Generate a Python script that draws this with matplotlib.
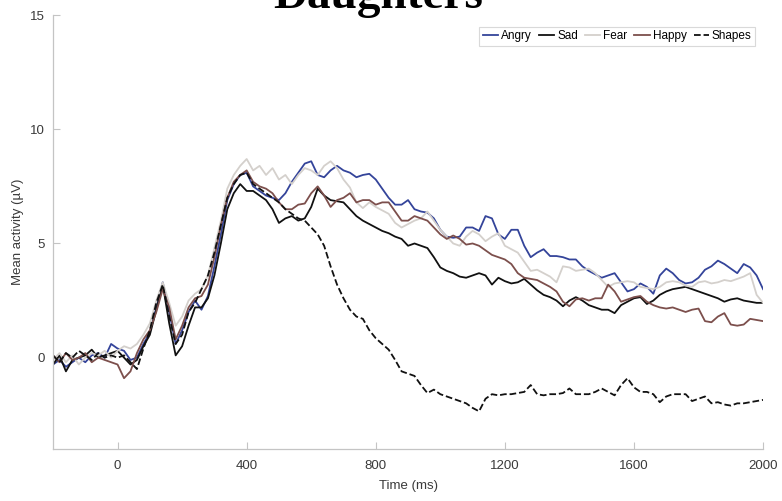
import numpy as np
import matplotlib

matplotlib.use("Agg")
import matplotlib.pyplot as plt  # noqa: E402

# time axis, 20 ms steps
time_ms = np.arange(-200, 2001, 20)

angry = [
    -0.3, -0.1, -0.4, -0.2, 0.0, -0.2, 0.1, 0.2, 0.0, 0.6,
    0.4, 0.3, -0.1, 0.0, 0.6, 1.1, 2.2, 3.3, 2.0, 0.6,
    1.2, 2.0, 2.5, 2.1, 2.7, 4.0, 5.4, 6.9, 7.6, 8.0,
    8.1, 7.5, 7.3, 7.1, 7.0, 6.9, 7.2, 7.7, 8.1, 8.5,
    8.6, 8.0, 7.9, 8.2, 8.4, 8.2, 8.1, 7.9, 8.0, 8.05,
    7.8, 7.4, 7.0, 6.7, 6.7, 6.9, 6.5, 6.4, 6.35, 6.1,
    5.6, 5.3, 5.25, 5.3, 5.7, 5.7, 5.55, 6.2, 6.1, 5.4,
    5.2, 5.6, 5.6, 4.9, 4.4, 4.6, 4.75, 4.45, 4.45, 4.4,
    4.3, 4.3, 4.0, 3.8, 3.65, 3.5, 3.6, 3.7, 3.3, 2.9,
    3.0, 3.25, 3.1, 2.8, 3.6, 3.9, 3.7, 3.4, 3.25, 3.3,
    3.5, 3.85, 4.0, 4.25, 4.1, 3.9, 3.7, 4.1, 3.95, 3.6,
    3.0,
]
sad = [
    -0.3, 0.1, -0.6, -0.1, 0.0, 0.1, 0.35, 0.0, 0.1, 0.2,
    0.3, 0.0, -0.3, -0.1, 0.5, 1.0, 2.1, 3.2, 1.5, 0.1,
    0.5, 1.4, 2.2, 2.2, 2.6, 3.6, 5.0, 6.5, 7.2, 7.6,
    7.3, 7.3, 7.1, 6.9, 6.5, 5.9, 6.1, 6.2, 6.0, 6.1,
    6.6, 7.4, 7.1, 6.9, 6.85, 6.8, 6.5, 6.2, 6.0, 5.85,
    5.7, 5.55, 5.45, 5.3, 5.2, 4.9, 5.0, 4.9, 4.8, 4.4,
    3.95, 3.8, 3.7, 3.55, 3.5, 3.6, 3.7, 3.6, 3.2, 3.5,
    3.35, 3.25, 3.3, 3.45, 3.2, 2.95, 2.75, 2.65, 2.5, 2.25,
    2.5, 2.65, 2.5, 2.3, 2.2, 2.1, 2.1, 1.95, 2.3, 2.45,
    2.6, 2.65, 2.35, 2.5, 2.75, 2.9, 3.0, 3.05, 3.1, 3.0,
    2.9, 2.8, 2.7, 2.6, 2.45, 2.55, 2.6, 2.5, 2.45, 2.4,
    2.4,
]
fear = [
    -0.1, 0.2, -0.2, 0.1, -0.3, 0.0, 0.2, 0.1, 0.3, 0.0,
    0.3, 0.5, 0.4, 0.6, 1.0, 1.5, 2.5, 3.3, 2.4, 1.4,
    1.8, 2.5, 2.8, 3.0, 3.6, 4.8, 6.0, 7.4, 8.0, 8.4,
    8.7, 8.2, 8.4, 8.0, 8.3, 7.8, 8.0, 7.6, 8.0, 8.3,
    8.2, 8.0, 8.4, 8.6, 8.3, 7.8, 7.45, 6.8, 6.55, 6.8,
    6.6, 6.45, 6.3, 5.9, 5.7, 5.85, 6.0, 6.1, 6.4, 6.0,
    5.6, 5.3, 5.0, 4.9, 5.3, 5.55, 5.4, 5.1, 5.3, 5.45,
    4.9, 4.75, 4.6, 4.2, 3.8, 3.85, 3.7, 3.55, 3.3, 4.0,
    3.95, 3.8, 3.85, 3.9, 3.7, 3.4, 3.1, 3.25, 3.3, 3.35,
    3.3, 3.1, 3.05, 3.0, 3.1, 3.3, 3.35, 3.3, 3.15, 3.1,
    3.3, 3.35, 3.25, 3.3, 3.4, 3.35, 3.45, 3.55, 3.7, 2.75,
    2.4,
]
happy = [
    0.1, -0.2, 0.2, -0.1, 0.0, 0.2, -0.2, 0.0, -0.1, -0.2,
    -0.3, -0.9, -0.6, 0.2, 0.8, 1.2, 2.0, 3.0, 2.2, 0.8,
    1.4, 2.2, 2.6, 2.7, 3.2, 4.4, 5.8, 7.0, 7.7, 8.0,
    8.2, 7.7, 7.5, 7.4, 7.2, 6.8, 6.5, 6.5, 6.7, 6.75,
    7.2, 7.5, 7.1, 6.6, 6.9, 7.0, 7.2, 6.8, 6.9, 6.9,
    6.7, 6.8, 6.8, 6.4, 6.0, 6.0, 6.2, 6.1, 6.0, 5.7,
    5.4, 5.2, 5.35, 5.2, 4.95, 5.0, 4.9, 4.7, 4.5, 4.4,
    4.3, 4.1, 3.7, 3.5, 3.45, 3.4, 3.25, 3.1, 2.9, 2.45,
    2.25, 2.55, 2.6, 2.5, 2.6, 2.6, 3.2, 2.9, 2.45, 2.55,
    2.65, 2.7, 2.45, 2.3, 2.2, 2.15, 2.2, 2.1, 2.0, 2.1,
    2.15, 1.6, 1.55, 1.8, 1.95, 1.45, 1.4, 1.45, 1.7, 1.65,
    1.6,
]
shapes = [
    0.1, -0.2, 0.2, 0.0, 0.3, 0.1, -0.1, 0.2, 0.0, 0.1,
    0.0, 0.1, -0.2, -0.5, 0.4, 1.2, 2.4, 3.2, 1.8, 0.6,
    1.0, 2.0, 2.4, 3.0, 3.6, 4.6, 5.8, 7.0, 7.6, 8.0,
    8.1, 7.6, 7.4, 7.2, 7.0, 6.8, 6.5, 6.3, 6.1, 6.0,
    5.7, 5.4, 4.9, 4.0, 3.2, 2.6, 2.1, 1.8, 1.7, 1.2,
    0.85, 0.6, 0.35, -0.1, -0.6, -0.7, -0.8, -1.2, -1.55, -1.4,
    -1.6, -1.7, -1.8, -1.9, -2.0, -2.2, -2.35, -1.8, -1.6, -1.65,
    -1.6, -1.6, -1.55, -1.5, -1.2, -1.6, -1.65, -1.6, -1.6, -1.55,
    -1.35, -1.6, -1.6, -1.6, -1.5, -1.35, -1.5, -1.65, -1.2, -0.9,
    -1.3, -1.5, -1.5, -1.6, -1.95, -1.7, -1.6, -1.6, -1.6, -1.9,
    -1.8, -1.7, -2.0, -1.95, -2.05, -2.1, -2.0, -2.0, -1.95, -1.9,
    -1.85,
]

series = [
    ("Angry", angry, "#34449a", "-"),
    ("Sad", sad, "#111111", "-"),
    ("Fear", fear, "#d4d0cc", "-"),
    ("Happy", happy, "#7c4f4c", "-"),
    ("Shapes", shapes, "#111111", "--"),
]

plt.rcParams["font.family"] = ["Liberation Sans", "DejaVu Sans"]
GRAY = "#c4c4c4"
TXT = "#3a3a3a"

fig = plt.figure(figsize=(7.82, 5.01), dpi=100)
ax = fig.add_axes([0.0678, 0.1038, 0.908, 0.866])

for name, vals, col, ls in series:
    ax.plot(time_ms, vals, color=col, ls=ls, lw=1.3, label=name)

ax.set_xlim(-200, 2000)
ax.set_ylim(-4, 15)
ax.set_xticks(np.arange(0, 2001, 400))
ax.set_yticks([0, 5, 10, 15])
for s in ("top", "right"):
    ax.spines[s].set_visible(False)
for s in ("left", "bottom"):
    ax.spines[s].set_color(GRAY)
    ax.spines[s].set_linewidth(0.9)
ax.tick_params(direction="in", length=5, width=0.8, color=GRAY,
               labelcolor=TXT, labelsize=9.5)
ax.tick_params(axis="x", pad=8)
ax.tick_params(axis="y", pad=6)
ax.set_xlabel("Time (ms)", fontsize=9.5, color=TXT, labelpad=6)
ax.set_ylabel("Mean activity (µV)", fontsize=9.5, color=TXT, labelpad=4)

leg = ax.legend(loc="upper right", ncol=5, fontsize=8.5, frameon=True,
                fancybox=False, handlelength=1.3, handletextpad=0.25,
                columnspacing=0.6, borderpad=0.3, borderaxespad=0,
                bbox_to_anchor=(0.989, 0.973))
leg.get_frame().set_edgecolor("#d0d0d0")
leg.get_frame().set_linewidth(0.8)

fig.text(0.483, 0.984, "Daughters", ha="center", va="baseline",
         fontsize=34, fontweight="bold", family="Liberation Serif")

fig.savefig("out.png", dpi=100)
